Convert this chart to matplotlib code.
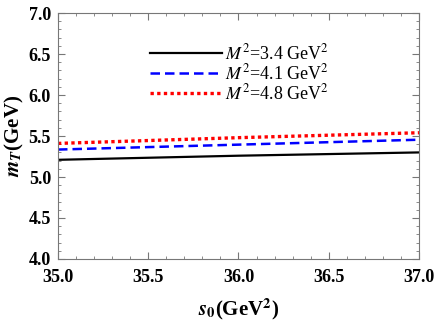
import matplotlib
matplotlib.use("Agg")
import matplotlib.pyplot as plt
from matplotlib.ticker import MultipleLocator, FormatStrFormatter

plt.rcParams["font.family"] = ["Liberation Serif", "DejaVu Serif"]
plt.rcParams["mathtext.fontset"] = "stix"

# threshold parameter s0 (GeV^2)
s0 = [35.0, 35.5, 36.0, 36.5, 37.0]

# mass curves for the three Borel parameters
m_34 = [5.21, 5.235, 5.26, 5.28, 5.30]
m_41 = [5.335, 5.365, 5.395, 5.425, 5.455]
m_48 = [5.41, 5.445, 5.48, 5.51, 5.54]

labels = [r"$M^2$=3.4 GeV$^2$", r"$M^2$=4.1 GeV$^2$", r"$M^2$=4.8 GeV$^2$"]

fig = plt.figure(figsize=(4.36, 3.27), dpi=100)
ax = fig.add_axes([0.133, 0.208, 0.828, 0.752])

ax.plot(s0, m_34, color="black", lw=1.6, label=labels[0])
ax.plot(s0, m_41, color="#0000ff", lw=1.8, dashes=(3.8, 2.0), label=labels[1])
ax.plot(s0, m_48, color="#ff0000", lw=2.4, dashes=(1.0, 1.0), label=labels[2])

ax.set_xlim(35, 37)
ax.set_ylim(4, 7)
ax.xaxis.set_major_locator(MultipleLocator(0.5))
ax.xaxis.set_minor_locator(MultipleLocator(0.1))
ax.yaxis.set_major_locator(MultipleLocator(0.5))
ax.yaxis.set_minor_locator(MultipleLocator(0.1))
ax.xaxis.set_major_formatter(FormatStrFormatter("%.1f"))
ax.yaxis.set_major_formatter(FormatStrFormatter("%.1f"))

ax.tick_params(which="both", direction="in", top=True, right=True, color="#777777")
ax.tick_params(which="major", length=5, width=0.8, labelsize=13)
ax.tick_params(axis="x", which="major", pad=7)
ax.tick_params(axis="y", which="major", pad=5)
ax.tick_params(which="minor", length=2.5, width=0.6)
for lab in ax.get_xticklabels() + ax.get_yticklabels():
    lab.set_fontweight("bold")
for sp in ax.spines.values():
    sp.set_color("#777777")
    sp.set_linewidth(0.8)

ax.set_xlabel(r"$\mathbfit{s}_\mathbf{0}$(GeV$^\mathbf{2}$)", fontsize=15, fontweight="bold", labelpad=8)
ax.set_ylabel(r"$\mathbfit{m}_\mathbfit{T}$(GeV)", fontsize=15, fontweight="bold", labelpad=2)

ax.legend(loc="upper left", bbox_to_anchor=(0.225, 0.92), frameon=False, fontsize=13,
          handlelength=4.0, handletextpad=0.15, labelspacing=0.0, borderpad=0.1)

fig.savefig("out.png", dpi=100)
